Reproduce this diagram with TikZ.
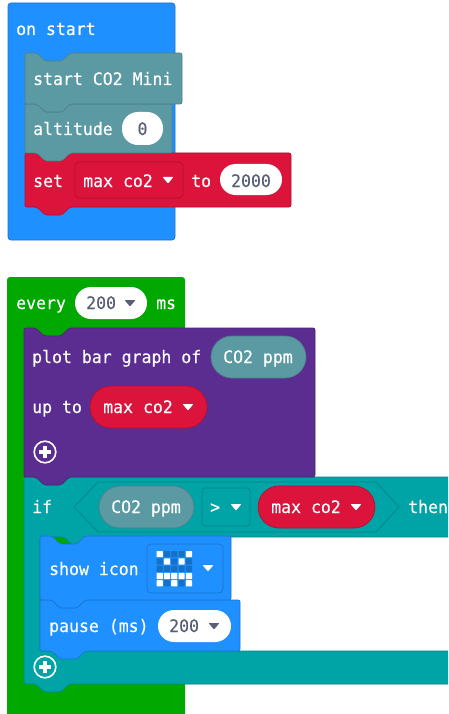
\documentclass[tikz,border=0pt]{standalone}
\usepackage{fontspec}
\setmainfont[FakeStretch=0.96,FakeBold=0.25]{DejaVu Sans Mono}
\definecolor{cblue}{HTML}{1E90FF}
\definecolor{cblueE}{HTML}{1A76CF}
\definecolor{cblueD}{HTML}{1670C8}
\definecolor{cgreen}{HTML}{00A800}
\definecolor{cslate}{HTML}{5C9AA3}
\definecolor{cslateE}{HTML}{4D808A}
\definecolor{cred}{HTML}{DC143C}
\definecolor{credE}{HTML}{B01030}
\definecolor{cpurple}{HTML}{5C2D91}
\definecolor{cpurpleE}{HTML}{4A2474}
\definecolor{cteal}{HTML}{00A4A6}
\definecolor{ctealE}{HTML}{008385}
\definecolor{cvalue}{HTML}{575E75}
\tikzset{
  lbl/.style={anchor=base west,inner sep=0pt,text=white,font=\fontsize{17.2pt}{18pt}\selectfont},
  val/.style={anchor=base,inner sep=0pt,text=cvalue,font=\fontsize{17.2pt}{18pt}\selectfont},
  valw/.style={anchor=base west,inner sep=0pt,text=cvalue,font=\fontsize{17.2pt}{18pt}\selectfont},
  blueblock/.style={fill=cblue,draw=cblueE,line width=.7pt},
  slateblock/.style={fill=cslate,draw=cslateE,line width=.7pt},
  redblock/.style={fill=cred,draw=credE,line width=.7pt},
  purpleblock/.style={fill=cpurple,draw=cpurpleE,line width=.7pt},
  tealblock/.style={fill=cteal,draw=ctealE,line width=.7pt},
  whitepill/.style={fill=white,draw=none},
  redpill/.style={fill=cred,draw=credE,line width=.7pt},
  slatepill/.style={fill=cslate,draw=cslateE,line width=.7pt},
}
% #1 style, #2 left, #3 top, #4 right, #5 bottom
\newcommand\mkblock[5]{%
  \path[#1,rounded corners=2pt]
    (#2,#3) -- ({#2+12},#3) -- ({#2+20},{#3+8}) -- ({#2+37},{#3+8}) -- ({#2+45},#3)
    -- (#4,#3) -- (#4,#5)
    -- ({#2+45},#5) -- ({#2+37},{#5+8}) -- ({#2+20},{#5+8}) -- ({#2+12},#5)
    -- (#2,#5) -- cycle;}
\newcommand\mkcaret[3]{\path[fill=#3,rounded corners=.8pt] ({#1-5.5},{#2-3}) -- ({#1+5.5},{#2-3}) -- (#1,{#2+3.5}) -- cycle;}
\newcommand\mkplus[2]{%
  \path[draw=white,line width=1.6pt] (#1,#2) circle[radius=10.8pt];
  \path[draw=white,line width=3.2pt] ({#1-6},#2) -- ({#1+6},#2) ({#1},{#2-6}) -- ({#1},{#2+6});}
\begin{document}
\begin{tikzpicture}[x=1pt,y=-1pt]
\useasboundingbox (0,0) rectangle (448,714);
\fill[white] (0,0) rectangle (448,714);
\begin{scope}
\clip (0,0) rectangle (448,714);

% ---- on start ----
\path[blueblock,rounded corners=3pt] (8,3) rectangle (175,240);
\node[lbl] (onstart) at (16,35) {on start};
\mkblock{redblock}{25}{153}{291}{207}
\mkblock{slateblock}{25}{104}{172}{153}
\mkblock{slateblock}{25}{53}{182}{104}
\node[lbl] (startco) at (33,85) {start CO2 Mini};
\node[lbl] (altitude) at (33,135) {altitude};
\path[whitepill,rounded corners=16pt] (122,112) rectangle (163,145);
\node[val] (altval) at (142.5,135) {0};
\node[lbl] (setlbl) at (33,187) {set};
\path[fill=cred,draw=credE,line width=.7pt,rounded corners=4pt] (75,162) rectangle (183,198);
\node[lbl] (setvar) at (83,187) {max co2};
\mkcaret{168}{180}{white}
\node[lbl] (tolbl) at (191,187) {to};
\path[whitepill,rounded corners=15.5pt] (220,164) rectangle (282,195);
\node[val] (setval) at (251,187) {2000};

% ---- every ----
\path[fill=cgreen,rounded corners=3pt] (7,277) -- (185,277) -- (185,730) -- (7,730) -- cycle;
\node[lbl] (every) at (16,309) {every};
\path[whitepill,rounded corners=16pt] (75,287) rectangle (147,319);
\node[valw] (everyval) at (86,309) {200};
\mkcaret{130}{303}{cvalue}
\node[lbl] (ms) at (156,309) {ms};

% ---- if ----
\path[tealblock,rounded corners=2pt]
  (24,477) -- (36,477) -- (44,485) -- (61,485) -- (69,477) -- (470,477)
  -- (470,537) -- (97,537) -- (89,545) -- (72,545) -- (64,537) -- (40,537)
  -- (40,651) -- (470,651) -- (470,684)
  -- (69,684) -- (61,692) -- (44,692) -- (36,684) -- (24,684) -- cycle;
\node[lbl] (iflbl) at (32,513) {if};
\path[fill=cteal,draw=ctealE,line width=.7pt,line join=round]
  (74,507) -- (98,482) -- (376,482) -- (399,507) -- (376,532) -- (98,532) -- cycle;
\path[slatepill,rounded corners=21pt] (99,486) rectangle (194,528);
\node[lbl] (ifco) at (111,513) {CO2 ppm};
\path[fill=cteal,draw=ctealE,line width=.7pt,rounded corners=3pt] (202,488) rectangle (250,526);
\node[lbl] (gt) at (210,513) {>};
\mkcaret{236}{507}{white}
\path[redpill,rounded corners=21pt] (258,486) rectangle (375,528);
\node[lbl] (ifvar) at (271,513) {max co2};
\mkcaret{356}{507}{white}
\node[lbl] (then) at (408,513) {then};
\mkplus{45}{667}

% ---- plot bar graph ----
\mkblock{purpleblock}{24}{328}{315}{477}
\node[lbl] (plot) at (32,363) {plot bar graph of};
\path[slatepill,rounded corners=21pt] (211,336) rectangle (306,378);
\node[lbl] (plotco) at (223,363) {CO2 ppm};
\node[lbl] (upto) at (32,413) {up to};
\path[redpill,rounded corners=21pt] (90,386) rectangle (207,428);
\node[lbl] (plotvar) at (103,413) {max co2};
\mkcaret{188}{407}{white}
\mkplus{45}{452}

% ---- pause and show icon ----
\mkblock{blueblock}{40}{600}{240}{651}
\mkblock{blueblock}{40}{536}{231}{600}
\node[lbl] (showicon) at (49,575) {show icon};
\path[fill=cblue,draw=cblueE,line width=.7pt,rounded corners=4pt] (147,544) rectangle (223,593);
\foreach \r/\row in {0/{1,0,0,0,1},1/{0,1,0,1,0},2/{0,0,0,0,0},3/{1,1,1,1,1},4/{1,0,1,0,1}}{
  \foreach \v [count=\c from 0] in \row {
    \ifnum\v=1\relax\def\cellc{white}\else\def\cellc{cblueD}\fi
    \fill[\cellc,rounded corners=.6pt] ({156.6+\c*7.3},{551+\r*7.3}) rectangle ++(6.2,6.2);
  }
}
\mkcaret{208}{568}{white}
\node[lbl] (pause) at (49,632) {pause (ms)};
\path[whitepill,rounded corners=16pt] (158,610) rectangle (231,642);
\node[valw] (pauseval) at (169,632) {200};
\mkcaret{214}{626}{cvalue}
\end{scope}
\end{tikzpicture}
\end{document}
